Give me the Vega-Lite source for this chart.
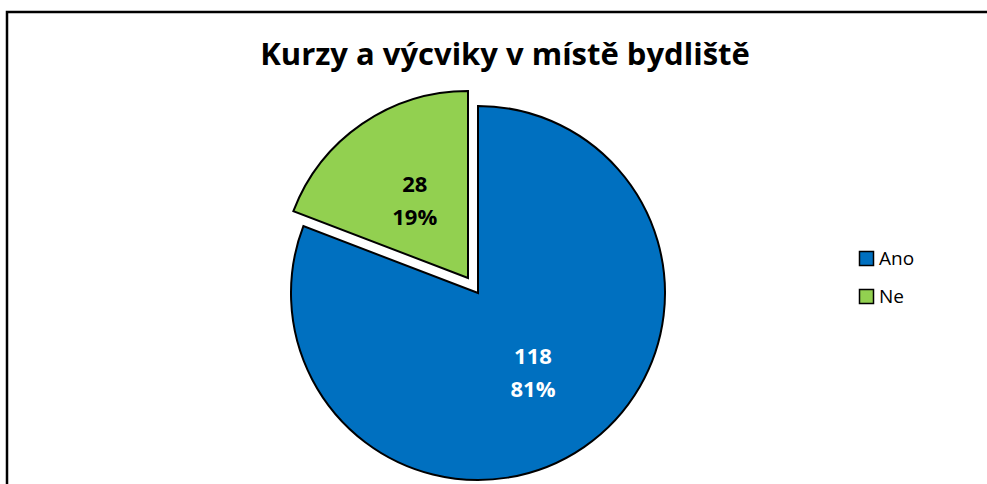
{
  "$schema": "https://vega.github.io/schema/vega-lite/v6.json",
  "width": 1000,
  "height": 562,
  "autosize": {"type": "none"},
  "padding": {"left": 7, "top": 12, "right": 0, "bottom": 0},
  "background": "white",
  "view": {"stroke": "black", "strokeWidth": 2.5},
  "title": {"text": "Kurzy a výcviky v místě bydliště", "font": "Open Sans", "fontSize": 31, "fontWeight": "bold", "color": "black", "anchor": "middle", "offset": -60, "dx": -2},
  "data": {"values": [
    {"kategorie": "Ano", "pocet": 118, "podil": "81%"},
    {"kategorie": "Ne", "pocet": 28, "podil": "19%"}
  ]},
  "encoding": {
    "theta": {"field": "pocet", "type": "quantitative", "stack": true},
    "order": {"field": "kategorie", "sort": "ascending"}
  },
  "layer": [
    {
      "mark": {"type": "arc", "outerRadius": 187, "stroke": "black", "strokeWidth": 2, "xOffset": -29},
      "encoding": {
        "color": {"field": "kategorie", "type": "nominal", "scale": {"domain": ["Ano", "Ne"], "range": ["#0070C0", "#92D050"]},
          "legend": {"title": null, "orient": "none", "legendX": 850, "legendY": 237, "symbolType": "square", "symbolSize": 196, "symbolStrokeColor": "black", "symbolStrokeWidth": 1.5, "labelFont": "Open Sans", "labelFontSize": 19, "labelColor": "black", "rowPadding": 17, "labelOffset": 3}},
        "fillOpacity": {"condition": {"test": "datum.kategorie === 'Ano'", "value": 1}, "value": 0},
        "strokeOpacity": {"condition": {"test": "datum.kategorie === 'Ano'", "value": 1}, "value": 0}
      }
    },
    {
      "mark": {"type": "arc", "outerRadius": 187, "stroke": "black", "strokeWidth": 2, "xOffset": -39, "yOffset": -15},
      "encoding": {
        "color": {"field": "kategorie", "type": "nominal"},
        "fillOpacity": {"condition": {"test": "datum.kategorie === 'Ne'", "value": 1}, "value": 0},
        "strokeOpacity": {"condition": {"test": "datum.kategorie === 'Ne'", "value": 1}, "value": 0}
      }
    },
    {
      "mark": {"type": "text", "radius": 97, "xOffset": -29, "dy": -16, "font": "Open Sans", "fontSize": 22, "fontWeight": "bold", "fill": "white"},
      "encoding": {"text": {"field": "pocet", "type": "quantitative"},
        "opacity": {"condition": {"test": "datum.kategorie === 'Ano'", "value": 1}, "value": 0}}
    },
    {
      "mark": {"type": "text", "radius": 97, "xOffset": -29, "dy": 17, "font": "Open Sans", "fontSize": 22, "fontWeight": "bold", "fill": "white"},
      "encoding": {"text": {"field": "podil", "type": "nominal"},
        "opacity": {"condition": {"test": "datum.kategorie === 'Ano'", "value": 1}, "value": 0}}
    },
    {
      "mark": {"type": "text", "radius": 94, "xOffset": -39, "yOffset": -15, "dy": -16, "font": "Open Sans", "fontSize": 22, "fontWeight": "bold", "fill": "black"},
      "encoding": {"text": {"field": "pocet", "type": "quantitative"},
        "opacity": {"condition": {"test": "datum.kategorie === 'Ne'", "value": 1}, "value": 0}}
    },
    {
      "mark": {"type": "text", "radius": 94, "xOffset": -39, "yOffset": -15, "dy": 17, "font": "Open Sans", "fontSize": 22, "fontWeight": "bold", "fill": "black"},
      "encoding": {"text": {"field": "podil", "type": "nominal"},
        "opacity": {"condition": {"test": "datum.kategorie === 'Ne'", "value": 1}, "value": 0}}
    }
  ]
}
